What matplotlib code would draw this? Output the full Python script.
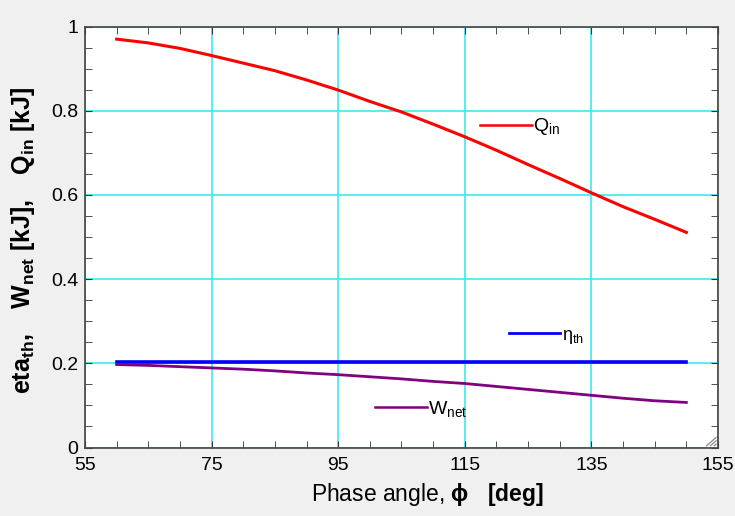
import matplotlib.pyplot as plt
from matplotlib.ticker import MultipleLocator

plt.rcParams['font.family'] = ['Liberation Sans', 'DejaVu Sans']
plt.rcParams['mathtext.fontset'] = 'custom'
plt.rcParams['mathtext.rm'] = 'Liberation Sans'
plt.rcParams['mathtext.it'] = 'Liberation Sans:italic'
plt.rcParams['mathtext.bf'] = 'Liberation Sans:bold'

# phase angle sweep [deg]
phi = [60, 65, 70, 75, 80, 85, 90, 95, 100, 105, 110, 115, 120, 125, 130, 135, 140, 145, 150]
# heat input [kJ]
Q_in = [0.970, 0.961, 0.948, 0.931, 0.913, 0.895, 0.873, 0.849, 0.822, 0.797,
        0.768, 0.738, 0.706, 0.672, 0.639, 0.605, 0.572, 0.542, 0.511]
# thermal efficiency [-]
eta_th = [0.203, 0.203, 0.203, 0.203, 0.203, 0.203, 0.203, 0.203, 0.203, 0.203,
          0.203, 0.203, 0.203, 0.203, 0.203, 0.203, 0.203, 0.203, 0.203]
# net work [kJ]
W_net = [0.197, 0.195, 0.192, 0.189, 0.186, 0.182, 0.177, 0.173, 0.168, 0.163,
         0.157, 0.152, 0.145, 0.138, 0.131, 0.124, 0.117, 0.111, 0.107]

x_ticks = [55, 75, 95, 115, 135, 155]
y_ticks = [0, 0.2, 0.4, 0.6, 0.8, 1.0]
y_tick_labels = ['0', '0.2', '0.4', '0.6', '0.8', '1']

fig = plt.figure(figsize=(7.35, 5.16), dpi=100, facecolor='#f0f0f0')
ax = fig.add_axes([85 / 735, 1 - 447.5 / 516, 633 / 735, 421 / 516])
ax.set_facecolor('white')

ax.plot(phi, Q_in, color='#ff0000', lw=2.2, zorder=3)
ax.plot(phi, eta_th, color='#0000ff', lw=2.6, zorder=3)
ax.plot(phi, W_net, color='#800080', lw=2.0, zorder=3)

# inline labels
ax.plot([117.4, 125.6], [0.766, 0.766], color='#ff0000', lw=1.8)
ax.text(125.8, 0.762, r'Q$_{\mathregular{in}}$', fontsize=14, va='center', ha='left')
ax.plot([122.0, 130.0], [0.273, 0.273], color='#0000ff', lw=2.0)
ax.text(130.3, 0.262, r'η$_{\mathregular{th}}$', fontsize=13, va='center', ha='left')
ax.plot([100.8, 109.0], [0.097, 0.097], color='#800080', lw=1.8)
ax.text(109.2, 0.092, r'W$_{\mathregular{net}}$', fontsize=14, va='center', ha='left')

ax.set_xlim(55, 155)
ax.set_ylim(0, 1)
ax.set_xticks(x_ticks)
ax.xaxis.set_minor_locator(MultipleLocator(5))
ax.set_yticks(y_ticks)
ax.set_yticklabels(y_tick_labels)
ax.yaxis.set_minor_locator(MultipleLocator(0.05))
ax.grid(True, which='major', color='#40e8f0', lw=1.2)
ax.set_axisbelow(True)
ax.tick_params(which='both', direction='in', top=True, right=True, colors='#333333',
               labelcolor='black', labelsize=14, length=5)
ax.tick_params(axis='x', pad=7)
ax.tick_params(axis='y', pad=5)
for s in ax.spines.values():
    s.set_color('#444444')
    s.set_linewidth(1.2)

fig.text(427 / 735, 1 - 494 / 516, r'Phase angle, $\mathbf{\phi\ \ \ [deg]}$',
         fontsize=16.5, ha='center', va='center')
fig.text(23 / 735, 1 - 240 / 516,
         r'$\mathbf{eta_{th},\ \ \ W_{net}\ [kJ],\ \ \ Q_{in}\ [kJ]}$',
         fontsize=18, rotation=90, ha='center', va='center')

# resize grip in the lower right corner
for k in range(3):
    d = 0.008 + k * 0.008
    ax.plot([1 - d * 0.75, 1 - 0.003], [0.004, d], transform=ax.transAxes,
            color='#888888', lw=0.9, clip_on=False)

fig.savefig('out.png', dpi=100, facecolor=fig.get_facecolor())
